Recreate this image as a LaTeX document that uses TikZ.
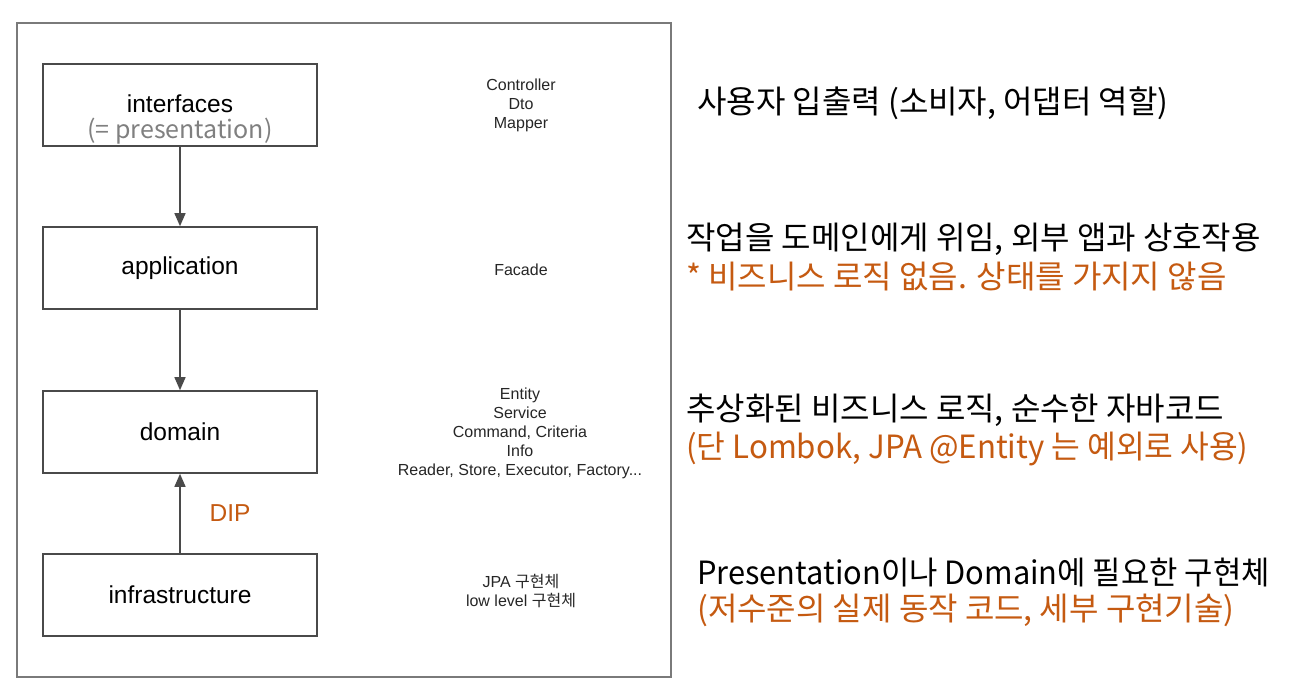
\documentclass[tikz,border=0pt]{standalone}
\usepackage{fontspec}
\setmainfont{Liberation Sans}
\newfontfamily\kr{Noto Sans CJK KR}
\usetikzlibrary{arrows.meta}
\definecolor{orng}{HTML}{C55A11}
\definecolor{gtxt}{HTML}{808080}
\definecolor{boxline}{HTML}{4A4A4A}
\definecolor{frameline}{HTML}{7A7A7A}
\begin{document}
\begin{tikzpicture}[x=1pt,y=-1pt,
  layer/.style={draw=boxline, line width=1.6pt, minimum width=274pt, minimum height=82pt, inner sep=0pt, font=\fontsize{24.5}{28}\selectfont},
  note/.style={align=center, inner sep=0pt, font=\fontsize{16}{19}\selectfont, text=black!85},
  ann/.style={anchor=west, inner sep=0pt, font=\kr\fontsize{32}{38}\selectfont},
  dep/.style={draw=boxline, line width=1.4pt, -{Triangle[length=13pt,width=11pt]}}]
\useasboundingbox (0,0) rectangle (1290,687);
\fill[white] (0,0) rectangle (1290,687);
% outer frame
\draw[frameline, line width=2.4pt] (17,23) rectangle (671,677);
% layers
\node[layer] (intf) at (180,105) {};
\node[inner sep=0pt, font=\fontsize{24.5}{28}\selectfont] (intflbl) at (180,104) {interfaces};
\node[inner sep=0pt, font=\kr\fontsize{25}{28}\selectfont, text=gtxt] (pres) at (180,131) {(= presentation)};
\node[layer] (app) at (180,268) {application};
\node[layer] (dom) at (180,432) {domain};
\node[layer] (infra) at (180,595) {infrastructure};
% connectors
\draw[dep] (intf.south) -- (app.north);
\draw[dep] (app.south) -- (dom.north);
\draw[dep] (infra.north) -- (dom.south);
\node[text=orng, font=\fontsize{24.5}{28}\selectfont] (dip) at (230,513) {DIP};
% notes
\node[note] (n1) at (521,105) {Controller\\Dto\\Mapper};
\node[note] (n2) at (521,270) {Facade};
\node[note] (n3) at (520,433) {Entity\\Service\\Command, Criteria\\Info\\Reader, Store, Executor, Factory...};
\node[note] (n4) at (521,591) {JPA {\kr 구현체}\\low level {\kr 구현체}};
% annotations
\node[ann] (a1) at (697,103) {사용자 입출력 (소비자, 어댑터 역할)};
\node[ann] (a2) at (686,239) {작업을 도메인에게 위임, 외부 앱과 상호작용};
\node[ann, text=orng] (a2b) at (686,277) {* 비즈니스 로직 없음. 상태를 가지지 않음};
\node[ann] (a3) at (686,410) {추상화된 비즈니스 로직, 순수한 자바코드};
\node[ann, text=orng] (a3b) at (686,449) {\scalebox{0.976}[1]{(단 Lombok, JPA @Entity 는 예외로 사용)}};
\node[ann] (a4) at (697,573) {\scalebox{0.963}[1]{Presentation이나 Domain에 필요한 구현체}};
\node[ann, text=orng] (a4b) at (697,610) {(저수준의 실제 동작 코드, 세부 구현기술)};
\end{tikzpicture}
\end{document}
